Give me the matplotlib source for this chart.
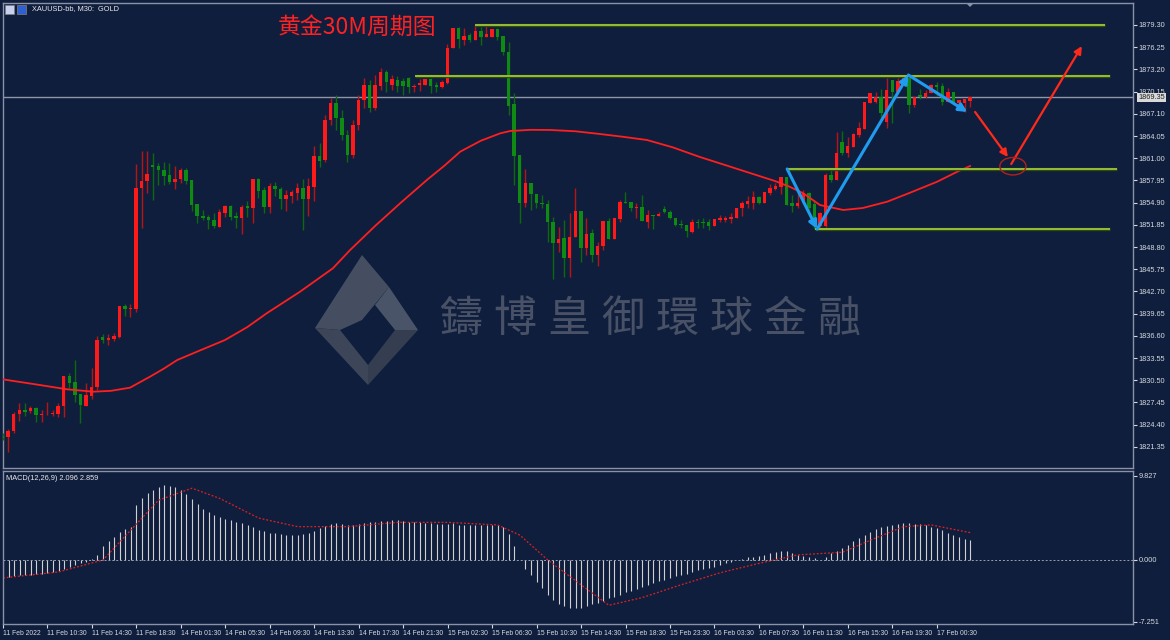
import numpy as np
import matplotlib.pyplot as plt
from matplotlib.patches import Ellipse, Polygon, Rectangle

W, H = 1170, 640
BG = '#101e3d'
FRAME = '#8a93a6'
UP, UP_WICK = '#ff1a1a', '#b81414'
DOWN, DOWN_WICK = '#0f8a12', '#0b6a0d'

# ---- candles (XAUUSD M30) ----
opens = [
    1822.90, 1822.70, 1823.53, 1825.82, 1826.41, 1826.27, 1826.69, 1825.73, 1825.80, 1825.82,
    1825.86, 1826.96, 1831.12, 1830.26, 1828.61, 1827.00, 1828.38, 1829.57, 1836.44, 1836.03,
    1836.12, 1836.48, 1840.70, 1840.25, 1840.29, 1856.95, 1857.83, 1860.11, 1859.89, 1859.38,
    1858.69, 1857.73, 1858.10, 1859.42, 1857.96, 1854.67, 1853.10, 1852.92, 1852.51, 1851.59,
    1853.51, 1854.48, 1853.06, 1852.83, 1854.48, 1854.20, 1858.10, 1856.63, 1854.34, 1857.22,
    1856.81, 1855.35, 1855.85, 1856.26, 1856.87, 1855.40, 1857.04, 1861.34, 1860.75, 1866.25,
    1868.58, 1866.52, 1864.19, 1861.44, 1865.56, 1868.99, 1871.05, 1867.90, 1870.92, 1872.84,
    1871.05, 1871.74, 1871.64, 1871.97, 1870.82, 1871.01, 1871.05, 1871.84, 1871.05, 1870.82,
    1871.29, 1876.10, 1878.84, 1877.24, 1877.96, 1877.24, 1878.47, 1877.69, 1877.69, 1878.71,
    1877.83, 1875.63, 1868.44, 1861.44, 1854.89, 1857.55, 1856.08, 1854.89, 1854.71, 1852.28,
    1849.31, 1849.99, 1847.25, 1850.13, 1853.79, 1848.62, 1850.77, 1847.70, 1848.94, 1852.37,
    1849.86, 1852.65, 1854.94, 1854.94, 1854.20, 1854.25, 1852.28, 1853.20, 1853.06, 1854.02,
    1853.65, 1852.74, 1851.96, 1851.82, 1850.90, 1852.28, 1852.28, 1852.20, 1851.73, 1852.51,
    1852.51, 1852.61, 1852.83, 1854.12, 1854.67, 1854.89, 1855.63, 1854.89, 1856.26, 1856.77,
    1857.08, 1858.37, 1854.80, 1854.39, 1854.80, 1856.26, 1854.71, 1851.69, 1851.69, 1858.69,
    1858.01, 1863.26, 1861.67, 1862.58, 1864.19, 1864.97, 1868.62, 1868.76, 1869.45, 1866.01,
    1871.74, 1870.13, 1871.51, 1872.29, 1868.31, 1869.68, 1869.45, 1870.00, 1871.05, 1870.92,
    1868.76, 1870.05, 1868.54, 1868.62, 1868.90,
]
highs = [
    1823.20, 1823.80, 1826.14, 1827.37, 1827.37, 1826.96, 1826.82, 1826.41, 1827.51, 1826.41,
    1827.37, 1831.12, 1831.49, 1833.28, 1828.61, 1830.16, 1832.18, 1836.58, 1836.85, 1836.85,
    1836.99, 1840.70, 1840.93, 1840.93, 1860.20, 1861.99, 1861.99, 1861.71, 1860.30, 1860.48,
    1860.30, 1859.97, 1859.61, 1859.61, 1857.96, 1854.67, 1853.89, 1853.20, 1853.43, 1853.98,
    1854.57, 1854.57, 1853.65, 1854.53, 1855.16, 1858.10, 1858.24, 1857.08, 1857.63, 1857.69,
    1857.08, 1856.63, 1856.63, 1857.55, 1858.14, 1858.32, 1862.68, 1863.05, 1866.93, 1869.27,
    1869.68, 1867.62, 1864.87, 1866.25, 1869.68, 1872.02, 1871.74, 1872.43, 1873.39, 1873.12,
    1872.43, 1872.29, 1871.97, 1872.20, 1871.15, 1871.84, 1871.88, 1872.06, 1871.51, 1871.74,
    1876.69, 1878.84, 1879.06, 1878.84, 1878.16, 1879.30, 1879.06, 1879.39, 1878.71, 1878.84,
    1877.83, 1877.00, 1870.00, 1861.44, 1859.52, 1857.55, 1856.08, 1855.95, 1855.26, 1852.96,
    1851.55, 1852.51, 1853.43, 1856.95, 1853.79, 1852.74, 1851.23, 1849.53, 1852.37, 1852.74,
    1852.74, 1855.26, 1856.40, 1855.02, 1854.80, 1855.95, 1853.88, 1853.20, 1853.61, 1854.48,
    1853.88, 1852.83, 1852.51, 1851.82, 1852.61, 1852.61, 1852.74, 1852.65, 1852.61, 1853.20,
    1853.06, 1853.43, 1854.12, 1855.16, 1855.81, 1856.54, 1855.81, 1856.40, 1857.41, 1857.55,
    1858.37, 1858.46, 1855.95, 1856.40, 1856.63, 1856.40, 1855.26, 1853.65, 1858.92, 1859.38,
    1864.64, 1864.78, 1863.95, 1864.50, 1866.01, 1868.76, 1869.91, 1870.13, 1870.46, 1871.97,
    1871.74, 1871.97, 1872.43, 1872.29, 1869.45, 1870.46, 1870.37, 1871.19, 1871.51, 1871.29,
    1870.60, 1870.05, 1869.00, 1869.09, 1869.35,
]
lows = [
    1822.30, 1820.64, 1823.25, 1824.90, 1825.59, 1826.00, 1824.76, 1824.76, 1825.73, 1825.59,
    1825.45, 1825.45, 1829.43, 1827.51, 1824.67, 1827.00, 1827.92, 1829.16, 1835.62, 1835.34,
    1835.89, 1836.30, 1839.33, 1839.23, 1839.91, 1851.45, 1856.22, 1855.26, 1857.36, 1857.36,
    1857.41, 1856.77, 1857.63, 1857.46, 1853.75, 1852.06, 1852.51, 1851.23, 1851.37, 1851.51,
    1852.96, 1852.51, 1851.37, 1850.59, 1852.88, 1852.06, 1855.49, 1853.43, 1853.43, 1855.81,
    1854.02, 1853.79, 1854.89, 1855.26, 1851.14, 1853.06, 1855.12, 1859.83, 1860.48, 1865.56,
    1864.87, 1863.50, 1860.48, 1861.03, 1864.87, 1867.90, 1867.35, 1867.62, 1870.37, 1870.09,
    1870.37, 1870.09, 1869.68, 1870.00, 1870.13, 1870.27, 1871.05, 1870.00, 1870.13, 1870.60,
    1871.19, 1876.10, 1876.10, 1876.55, 1877.00, 1877.24, 1876.55, 1877.61, 1877.69, 1877.24,
    1875.18, 1866.93, 1857.32, 1852.14, 1854.34, 1853.88, 1854.12, 1854.12, 1849.53, 1844.37,
    1848.16, 1844.64, 1844.64, 1850.13, 1846.78, 1847.70, 1846.78, 1846.19, 1848.39, 1849.86,
    1849.86, 1852.28, 1854.80, 1853.79, 1852.74, 1852.37, 1851.45, 1851.23, 1853.06, 1853.51,
    1852.65, 1851.69, 1851.37, 1850.13, 1850.68, 1851.37, 1851.37, 1851.14, 1851.73, 1852.28,
    1852.28, 1852.06, 1852.83, 1853.06, 1854.20, 1853.98, 1854.67, 1854.89, 1855.95, 1856.63,
    1856.08, 1854.57, 1853.65, 1854.12, 1854.71, 1853.43, 1851.30, 1851.51, 1851.51, 1857.77,
    1858.01, 1861.44, 1861.21, 1862.50, 1863.95, 1864.97, 1868.54, 1868.54, 1866.70, 1865.11,
    1865.79, 1870.13, 1871.51, 1867.17, 1868.07, 1869.09, 1869.23, 1869.91, 1869.54, 1868.31,
    1868.76, 1868.54, 1868.07, 1867.39, 1868.07,
]
closes = [
    1822.60, 1823.57, 1825.86, 1826.41, 1826.18, 1826.69, 1825.73, 1825.86, 1825.89, 1826.04,
    1826.96, 1831.12, 1830.08, 1828.47, 1827.10, 1828.51, 1829.57, 1836.03, 1836.03, 1836.30,
    1836.58, 1840.70, 1840.25, 1840.42, 1856.95, 1857.83, 1858.87, 1859.83, 1859.34, 1858.60,
    1857.69, 1858.14, 1859.42, 1857.91, 1854.57, 1853.06, 1852.83, 1852.47, 1851.69, 1853.65,
    1854.48, 1852.96, 1852.79, 1854.34, 1854.12, 1858.10, 1856.54, 1854.34, 1857.18, 1856.81,
    1855.35, 1855.95, 1856.32, 1856.87, 1855.40, 1857.14, 1861.34, 1860.66, 1866.25, 1868.58,
    1866.52, 1864.19, 1861.44, 1865.56, 1868.99, 1871.05, 1867.90, 1871.05, 1872.84, 1871.47,
    1871.88, 1870.92, 1870.96, 1870.82, 1870.96, 1871.29, 1871.88, 1870.92, 1870.82, 1871.43,
    1876.14, 1878.84, 1877.33, 1877.83, 1877.24, 1878.47, 1877.69, 1878.02, 1878.71, 1877.61,
    1875.55, 1868.17, 1861.30, 1854.89, 1857.55, 1856.04, 1854.80, 1854.71, 1852.28, 1849.31,
    1849.90, 1847.25, 1850.13, 1853.79, 1848.62, 1850.59, 1847.70, 1848.94, 1852.37, 1849.86,
    1852.74, 1854.94, 1854.80, 1854.12, 1854.34, 1852.37, 1853.20, 1853.06, 1853.34, 1853.65,
    1852.74, 1851.82, 1851.78, 1851.04, 1852.28, 1852.14, 1852.14, 1851.73, 1852.61, 1852.74,
    1852.74, 1852.96, 1854.12, 1854.80, 1855.12, 1855.63, 1854.89, 1856.40, 1856.87, 1857.18,
    1858.37, 1854.57, 1854.48, 1854.89, 1856.26, 1854.12, 1852.74, 1853.43, 1858.69, 1858.01,
    1861.67, 1861.67, 1862.68, 1864.32, 1865.11, 1868.76, 1869.91, 1869.45, 1867.17, 1870.37,
    1870.13, 1871.64, 1872.29, 1868.31, 1869.45, 1869.45, 1869.91, 1871.05, 1870.82, 1868.76,
    1870.05, 1868.54, 1869.00, 1869.09, 1869.35,
]

# moving average (bar index, price)
ma_bar = [0, 5.5, 11.6, 16.3, 19.5, 22.9, 26.5, 29.0, 31.4, 35.5, 40.0, 44.0, 47.5, 53.5,
          59.4, 62.5, 67.0, 71.5, 76.3, 79.5, 82.3, 86.0, 89.5, 91.3, 95.0, 98.5, 103.0,
          107.4, 111.5, 115.9, 120.5, 125.4, 130.0, 134.4, 138.9, 141.5, 144.0, 147.0,
          151.2, 154.7, 159.1, 163.2, 168.1, 171.7, 174.0]
ma_val = [1830.63, 1829.99, 1829.26, 1828.93, 1829.05, 1829.48, 1830.99, 1832.10, 1833.28,
          1834.60, 1836.03, 1837.80, 1839.70, 1842.67, 1845.88, 1848.39, 1851.70, 1854.81,
          1858.01, 1860.00, 1861.90, 1863.40, 1864.42, 1864.74, 1864.90, 1864.88, 1864.70,
          1864.33, 1863.95, 1863.50, 1862.50, 1861.17, 1860.05, 1858.97, 1857.87, 1857.10,
          1856.18, 1854.57, 1853.89, 1854.16, 1855.03, 1856.26, 1857.78, 1859.15, 1859.93]

# MACD histogram per bar and signal line
macd_hist = [
    -2.1, -2.0, -1.9, -1.8, -1.7, -1.7, -1.6, -1.6, -1.5, -1.4,
    -1.3, -1.0, -0.8, -0.6, -0.4, -0.2, 0.1, 0.6, 1.6, 2.2,
    2.7, 3.3, 3.6, 3.9, 6.4, 7.2, 7.8, 8.2, 8.5, 8.8,
    8.7, 8.5, 8.2, 7.7, 7.1, 6.5, 6.0, 5.6, 5.3, 5.0,
    4.8, 4.7, 4.5, 4.3, 4.1, 3.9, 3.5, 3.4, 3.2, 3.1,
    3.0, 2.9, 2.9, 2.9, 3.0, 3.2, 3.4, 3.7, 4.0, 4.2,
    4.3, 4.2, 4.1, 4.1, 4.2, 4.3, 4.4, 4.5, 4.6, 4.6,
    4.7, 4.7, 4.6, 4.5, 4.4, 4.4, 4.3, 4.3, 4.2, 4.2,
    4.2, 4.3, 4.1, 4.1, 4.1, 4.1, 4.1, 4.1, 4.1, 4.1,
    3.8, 3.0, 1.6, 0.0, -1.0, -1.8, -2.6, -3.3, -4.1, -4.7,
    -5.1, -5.4, -5.6, -5.6, -5.6, -5.4, -5.2, -5.0, -4.8, -4.5,
    -4.3, -4.1, -3.8, -3.6, -3.4, -3.2, -2.9, -2.7, -2.5, -2.3,
    -2.1, -1.9, -1.8, -1.6, -1.4, -1.2, -1.0, -0.9, -0.8, -0.6,
    -0.4, -0.2, 0.0, 0.1, 0.3, 0.4, 0.5, 0.6, 0.8, 0.9,
    1.0, 1.0, 0.8, 0.6, 0.5, 0.4, 0.2, 0.0, 0.3, 0.8,
    1.1, 1.4, 1.8, 2.2, 2.6, 2.9, 3.3, 3.6, 3.9, 4.0,
    4.1, 4.2, 4.3, 4.3, 4.2, 4.2, 4.1, 3.9, 3.7, 3.5,
    3.2, 2.9, 2.7, 2.5, 2.3,
]
sig_bar = [0, 10, 18, 23, 28, 34, 39, 46, 53, 62, 71, 80, 89, 93, 98, 104, 109, 115,
           122, 129, 136, 143, 151, 156, 162, 167, 174]
sig_val = [-2.1, -1.4, 0.0, 3.5, 7.0, 8.4, 7.2, 4.9, 3.9, 3.9, 4.4, 4.4, 4.1, 2.9, 0.0,
           -2.9, -5.3, -4.4, -2.9, -1.5, -0.4, 0.6, 0.9, 2.3, 3.9, 4.1, 3.2]

price_ticks = [1879.30, 1876.25, 1873.20, 1870.15, 1867.10, 1864.05, 1861.00, 1857.95,
               1854.90, 1851.85, 1848.80, 1845.75, 1842.70, 1839.65, 1836.60, 1833.55,
               1830.50, 1827.45, 1824.40, 1821.35]
macd_ticks = [9.827, 0.000, -7.251]
time_labels = ['11 Feb 2022', '11 Feb 10:30', '11 Feb 14:30', '11 Feb 18:30', '14 Feb 01:30',
               '14 Feb 05:30', '14 Feb 09:30', '14 Feb 13:30', '14 Feb 17:30', '14 Feb 21:30',
               '15 Feb 02:30', '15 Feb 06:30', '15 Feb 10:30', '15 Feb 14:30', '15 Feb 18:30',
               '15 Feb 23:30', '16 Feb 03:30', '16 Feb 07:30', '16 Feb 11:30', '16 Feb 15:30',
               '16 Feb 19:30', '17 Feb 00:30']
bid = 1869.35

# drawn objects: (start bar, end bar, price)
hlines = [(84.9, 198.3, 1879.30), (74.2, 199.2, 1872.33), (141.1, 200.4, 1859.52),
          (146.1, 199.2, 1851.27)]
blue_bar = [141.1, 146.5, 162.9, 173.5]
blue_px = [1859.52, 1851.27, 1872.43, 1867.35]
red_arrows = [((174.9, 1867.35), (180.8, 1861.16)), ((181.4, 1860.2), (194.1, 1876.4))]
circle = (181.7, 1859.9)


def frac(x0, y0, x1, y1):
    return [x0 / W, 1 - y1 / H, (x1 - x0) / W, (y1 - y0) / H]


def px(pts):
    return [(x / W, 1 - y / H) for x, y in pts]


plt.rcParams['font.family'] = ['Liberation Sans', 'DejaVu Sans']
fig = plt.figure(figsize=(W / 100, H / 100), dpi=100)
fig.patch.set_facecolor(BG)

ax = fig.add_axes(frac(3, 3, 1133, 468))
mx = fig.add_axes(frac(3, 471, 1133, 624))
for a in (ax, mx):
    a.set_facecolor(BG)
    for s in a.spines.values():
        s.set_color(FRAME)
        s.set_linewidth(1)
    a.set_xlim(0.07, 203.3)
    a.tick_params(axis='y', left=False, labelleft=False, right=True, labelright=True,
                  length=3, width=0.8, pad=1, labelsize=5.3, colors='#d5d9e0')

# watermark (logo + company name)
for pts, col in [
        ([(362, 255), (389, 287), (362, 320), (340, 330), (315, 328)], '#454e61'),
        ([(315, 328), (340, 330), (368, 365), (368, 385)], '#3d4659'),
        ([(368, 385), (368, 365), (395, 330), (418, 330)], '#353e50'),
        ([(389, 287), (418, 330), (395, 330), (375, 305)], '#4a5468')]:
    fig.patches.append(Polygon(px(pts), closed=True, transform=fig.transFigure,
                               facecolor=col, edgecolor='none', zorder=0.5))
for i, ch in enumerate('鑄博皇御環球金融'):
    fig.text((461 + i * 54) / W, 1 - 320 / H, ch, fontsize=31, color='#485165',
             family=['Noto Sans CJK TC', 'DejaVu Sans'], ha='center', va='center', zorder=0.6)

# candles
x = np.arange(len(opens))
o, h, l, c = (np.array(v) for v in (opens, highs, lows, closes))
up = c >= o
ax.vlines(x, l, h, colors=np.where(up, UP_WICK, DOWN_WICK), lw=1, zorder=3)
ax.bar(x, np.maximum(np.abs(c - o), 0.12), bottom=np.minimum(o, c), width=0.62,
       color=np.where(up, UP, DOWN), linewidth=0, zorder=4)
ax.plot(ma_bar, ma_val, color='#ff1f1f', lw=1.3, zorder=5)

ax.axhline(bid, color='#8d95a6', lw=1, zorder=2)
ax.annotate(f'{bid:.2f}', xy=(1.0, bid), xycoords=('axes fraction', 'data'),
            xytext=(4, 0), textcoords='offset points', va='center', ha='left', fontsize=5.3,
            color='#202020', bbox=dict(boxstyle='square,pad=0.15', fc='#d9d9d9', ec='none'),
            annotation_clip=False)

for x0, x1, y in hlines:
    ax.plot([x0, x1], [y, y], color='#2f4a10', lw=2.4, solid_capstyle='butt', zorder=6)
    ax.plot([x0, x1], [y, y], color='#a8d13c', lw=1.2, solid_capstyle='butt', zorder=6)

for i in range(len(blue_bar) - 1):
    ax.annotate('', xy=(blue_bar[i + 1], blue_px[i + 1]), xytext=(blue_bar[i], blue_px[i]),
                arrowprops=dict(arrowstyle='-|>', color='#1f9cf0', lw=2.2, mutation_scale=12,
                                shrinkA=0, shrinkB=0), zorder=7)
for (x0, y0), (x1, y1) in red_arrows:
    ax.annotate('', xy=(x1, y1), xytext=(x0, y0),
                arrowprops=dict(arrowstyle='-|>', color='#ff2a1a', lw=1.6, mutation_scale=11,
                                shrinkA=0, shrinkB=0), zorder=7)
ax.add_patch(Ellipse(circle, width=4.7, height=2.4, fill=False, ec='#b3201c', lw=1, zorder=7))

ax.set_ylim(1818.45, 1882.32)
ax.set_yticks(price_ticks)
ax.set_yticklabels([f'{p:.2f}' for p in price_ticks])
ax.set_xticks([])

ax.text(275 / 1130, 1 - 24 / 465, '黄金30M周期图', transform=ax.transAxes, color='#ff2222',
        fontsize=16.5, family=['Noto Sans CJK SC', 'DejaVu Sans'], va='center', ha='left')
ax.text(29 / 1130, 1 - 6 / 465, 'XAUUSD-bb, M30:  GOLD', transform=ax.transAxes,
        color='#e8e8e8', fontsize=5.3, va='center', ha='left')
fig.patches.append(Rectangle((5 / W, 1 - 14 / H), 9 / W, 9 / H, transform=fig.transFigure,
                             fc='#c8d0f0', ec='#808080', lw=0.5))
fig.patches.append(Rectangle((17 / W, 1 - 14 / H), 9 / W, 9 / H, transform=fig.transFigure,
                             fc='#3060d0', ec='#808080', lw=0.5))
fig.patches.append(Polygon(px([(966, 3), (974, 3), (970, 7)]), closed=True,
                           transform=fig.transFigure, fc='#8a93a6', ec='none'))

# MACD panel
mx.vlines(x, 0, macd_hist, colors='#d0d0d0', lw=0.8)
mx.plot(sig_bar, sig_val, color='#e02020', lw=0.9, ls=(0, (1.5, 1.5)))
mx.axhline(0, color='#9aa0ad', lw=0.7, ls=(0, (2, 2)))
mx.set_ylim(-7.49, 10.41)
mx.set_yticks(macd_ticks)
mx.set_yticklabels([f'{v:.3f}' for v in macd_ticks])
mx.set_xticks(np.arange(0, 8 * len(time_labels), 8))
mx.set_xticklabels(time_labels, ha='left')
mx.tick_params(axis='x', length=3, width=0.8, pad=1, labelsize=4.9, colors='#d5d9e0')
mx.text(3 / 1130, 1 - 7 / 153, 'MACD(12,26,9) 2.096 2.859', transform=mx.transAxes,
        color='#e8e8e8', fontsize=5.3, va='center', ha='left')

fig.savefig('out.png', dpi=100, facecolor=BG)
